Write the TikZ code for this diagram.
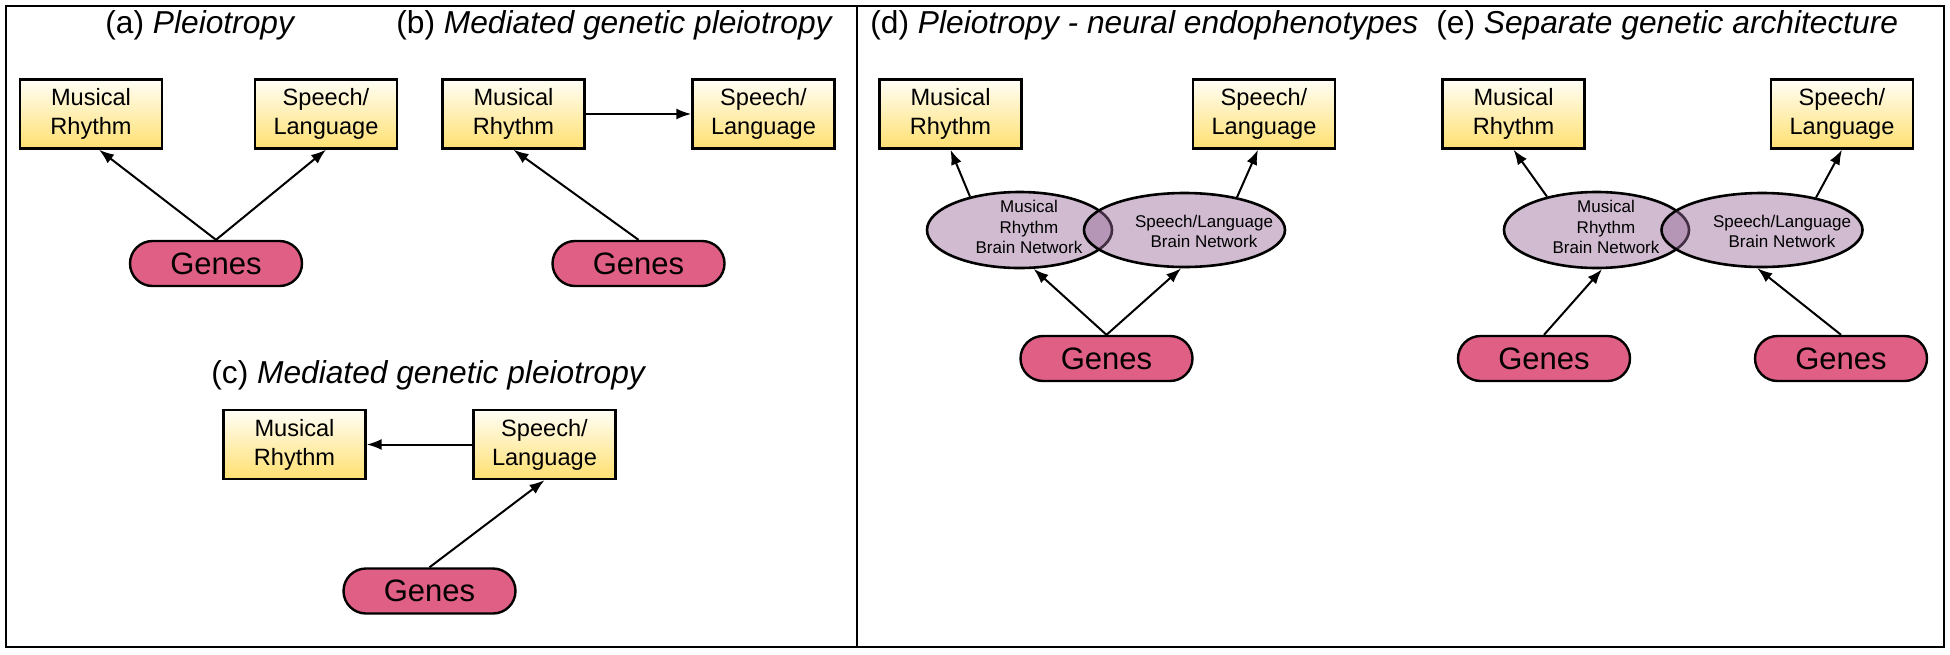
\documentclass[tikz,border=0pt]{standalone}
\usepackage{fontspec}
\setmainfont{Liberation Sans}
\usetikzlibrary{arrows.meta,shapes.geometric,calc}
\definecolor{boxtop}{HTML}{FFFEF6}
\definecolor{boxbot}{HTML}{FFE070}
\definecolor{genesfill}{HTML}{E06085}
\definecolor{netfill}{RGB}{150,105,150}
\begin{document}
\begin{tikzpicture}[x=0.5pt,y=-0.5pt,
  trait/.style={draw=black,line width=1.2pt,top color=boxtop,bottom color=boxbot,minimum width=71pt,minimum height=34.5pt,inner sep=0pt,align=center,font=\fontsize{11.8}{14.5}\selectfont},
  genes/.style={draw=black,line width=1.2pt,fill=genesfill,rounded corners=11.25pt,minimum width=86pt,minimum height=22.5pt,inner sep=0pt,font=\fontsize{15.5}{18}\selectfont},
  netL/.style={ellipse,draw=black,line width=1.3pt,fill=netfill,fill opacity=0.45,minimum width=92.5pt,minimum height=38pt,inner sep=0pt},
  netR/.style={netL,minimum width=100.5pt,minimum height=37pt},
  nettext/.style={align=center,inner sep=0pt,font=\fontsize{8.5}{10.25}\selectfont},
  title/.style={anchor=base west,inner sep=0pt,font=\fontsize{15.85}{19}\selectfont},
  link/.style={line width=1pt,-{Latex[length=7.5pt,width=5.5pt]}},
  frame/.style={line width=1pt}]
\useasboundingbox (0,0) rectangle (1950,654);
\draw[frame] (6,6) rectangle (1944,647);
\draw[frame] (857,6) -- (857,647);

% titles
\node[title] (ta) at (105,33) {(a) \textit{Pleiotropy}};
\node[title] (tb) at (396,33) {(b) \textit{Mediated genetic pleiotropy}};
\node[title] (tc) at (211,383) {(c) \textit{Mediated genetic pleiotropy}};
\node[title] (td) at (870,33) {(d) \textit{Pleiotropy - neural endophenotypes}};
\node[title] (te) at (1436,33) {(e) \textit{Separate genetic architecture}};

% (a)
\node[trait] (musA) at (91,114) {Musical\\Rhythm};
\node[trait] (spA) at (326,114) {Speech/\\Language};
\node[genes] (genA) at (216,263.5) {Genes};
\draw[link] (genA.north) -- ([xshift=4pt]musA.south);
\draw[link] (genA.north) -- (spA.south);

% (b)
\node[trait] (musB) at (513.5,114) {Musical\\Rhythm};
\node[trait] (spB) at (763.5,114) {Speech/\\Language};
\node[genes] (genB) at (638.5,263.5) {Genes};
\draw[link] (musB.east) -- (spB.west);
\draw[link] (genB.north) -- (musB.south);

% (c)
\node[trait] (musC) at (294.5,444.5) {Musical\\Rhythm};
\node[trait] (spC) at (544.5,444.5) {Speech/\\Language};
\node[genes] (genC) at (429.5,591) {Genes};
\draw[link] (spC.west) -- (musC.east);
\draw[link] (genC.north) -- (spC.south);

% (d)
\node[trait] (musD) at (950.5,114) {Musical\\Rhythm};
\node[trait] (spD) at (1264,114) {Speech/\\Language};
\node[netL] (netLD) at (1019.5,230) {};
\node[netR] (netRD) at (1184.5,230) {};
\node[nettext] (txLD) at (1029,227) {Musical\\Rhythm\\Brain Network};
\node[nettext] (txRD) at (1204,231.5) {Speech/Language\\Brain Network};
\node[genes] (genD) at (1106.5,358.5) {Genes};
\draw[link] (netLD.146) -- (musD.south);
\draw[link] (netRD.32) -- ([xshift=-3pt]spD.south);
\draw[link] (genD.north) -- (netLD.-70);
\draw[link] (genD.north) -- (netRD.-95);

% (e)
\node[trait] (musE) at (1513.5,114) {Musical\\Rhythm};
\node[trait] (spE) at (1842,114) {Speech/\\Language};
\node[netL] (netLE) at (1596.5,230) {};
\node[netR] (netRE) at (1762,230) {};
\node[nettext] (txLE) at (1606,227) {Musical\\Rhythm\\Brain Network};
\node[nettext] (txRE) at (1782,231.5) {Speech/Language\\Brain Network};
\node[genes] (genLE) at (1544,358.5) {Genes};
\node[genes] (genRE) at (1841,358.5) {Genes};
\draw[link] (netLE.146) -- (musE.south);
\draw[link] (netRE.31) -- (spE.south);
\draw[link] (genLE.north) -- (netLE.-82);
\draw[link] (genRE.north) -- (netRE.-97);
\end{tikzpicture}
\end{document}
